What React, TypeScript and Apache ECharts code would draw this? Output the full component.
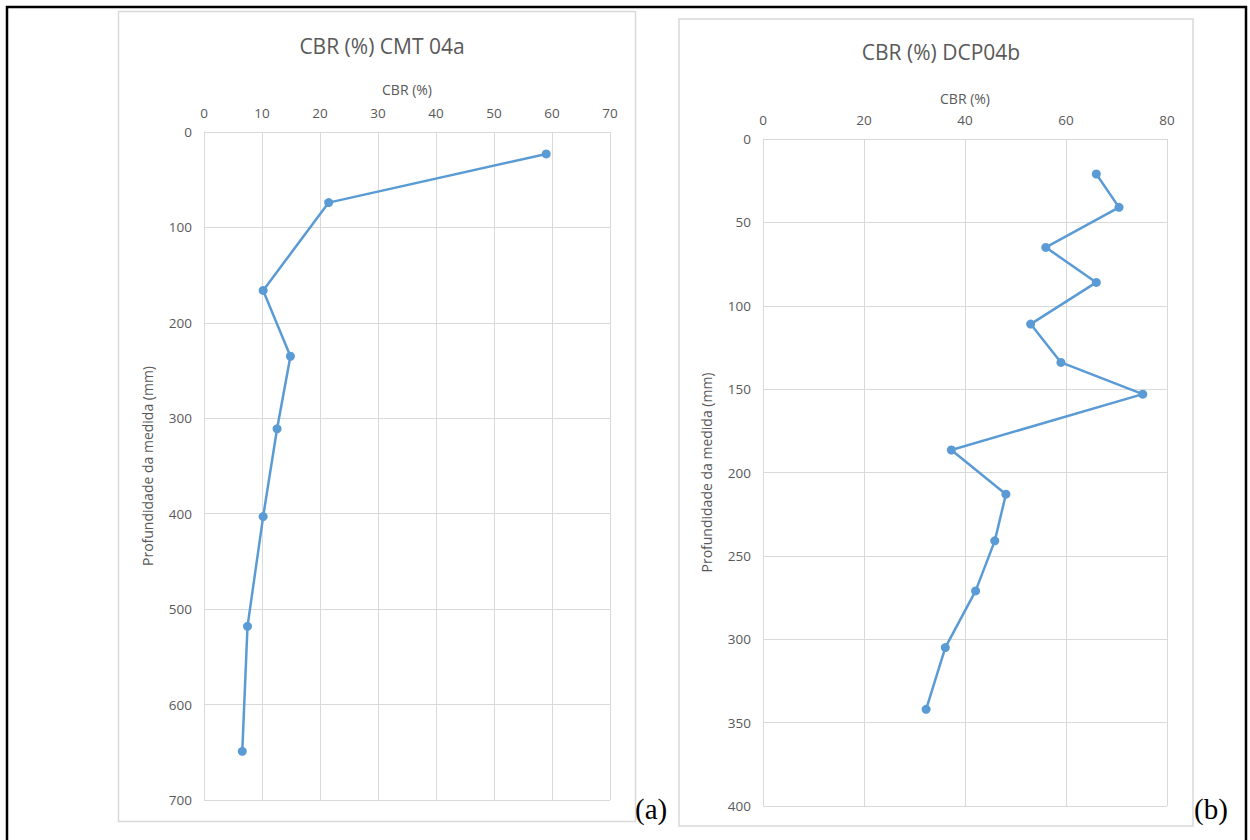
import React, { useEffect, useRef } from "react";
import * as echarts from "echarts";

const titleA = "CBR (%) CMT 04a";
const titleB = "CBR (%) DCP04b";
const xName = "CBR (%)";
const yName = "Profundidade da medida (mm)";

const cbrA = [59, 21.5, 10.2, 14.9, 12.6, 10.2, 7.5, 6.6];
const depthA = [23, 74, 166, 235, 311, 403, 518, 649];

const cbrB = [66, 70.5, 56, 66, 53, 59, 75.2, 37.3, 48.1, 45.9, 42.1, 36.1, 32.3];
const depthB = [21, 41, 65, 86, 111, 134, 153, 186.5, 213, 241, 271, 305, 342];

const pairs = (xs: number[], ys: number[]) => xs.map((x, i) => [x, ys[i]]);

const FONT = "Open Sans";
const GREY = "#595959";
const GRID = "#d9d9d9";
const BLUE = "#5b9bd5";

export default function App() {
  const ref = useRef<HTMLDivElement>(null);
  useEffect(() => {
    if (!ref.current) return;
    const chart = echarts.init(ref.current, null, { renderer: "svg" });
    const xAxisBase = (gridIndex: number, max: number, interval: number, gap: number) => ({
      type: "value",
      gridIndex,
      position: "top",
      min: 0,
      max,
      interval,
      name: xName,
      nameLocation: "middle",
      nameGap: gap,
      nameTextStyle: { color: GREY, fontFamily: FONT, fontSize: 14 },
      axisLine: { show: false },
      axisTick: { show: false },
      axisLabel: { color: GREY, fontFamily: FONT, fontSize: 13.5, margin: 12 },
      splitLine: { show: true, lineStyle: { color: GRID, width: 1 } },
    });
    const yAxisBase = (gridIndex: number, max: number, interval: number) => ({
      type: "value",
      gridIndex,
      inverse: true,
      min: 0,
      max,
      interval,
      name: yName,
      nameLocation: "middle",
      nameGap: 50,
      nameTextStyle: { color: GREY, fontFamily: FONT, fontSize: 14 },
      axisLine: { show: true, lineStyle: { color: GRID } },
      axisTick: { show: false },
      axisLabel: { color: GREY, fontFamily: FONT, fontSize: 13.5, margin: 12 },
      splitLine: { show: true, lineStyle: { color: GRID, width: 1 } },
    });
    const seriesBase = {
      type: "line",
      symbol: "circle",
      symbolSize: 9,
      lineStyle: { color: BLUE, width: 2.5 },
      itemStyle: { color: BLUE },
    };
    chart.setOption({
      animation: false,
      backgroundColor: "#ffffff",
      title: [
        {
          text: titleA,
          left: 377,
          top: 30,
          textAlign: "center",
          textStyle: { color: GREY, fontFamily: FONT, fontSize: 21, fontWeight: "normal" },
        },
        {
          text: titleB,
          left: 936,
          top: 36,
          textAlign: "center",
          textStyle: { color: GREY, fontFamily: FONT, fontSize: 21, fontWeight: "normal" },
        },
      ],
      grid: [
        { left: 204, top: 132, width: 406, height: 668 },
        { left: 763, top: 139, width: 404, height: 667 },
      ],
      xAxis: [xAxisBase(0, 70, 10, 36), xAxisBase(1, 80, 20, 34)],
      yAxis: [yAxisBase(0, 700, 100), yAxisBase(1, 400, 50)],
      series: [
        { ...seriesBase, xAxisIndex: 0, yAxisIndex: 0, data: pairs(cbrA, depthA) },
        { ...seriesBase, xAxisIndex: 1, yAxisIndex: 1, data: pairs(cbrB, depthB) },
      ],
      graphic: [
        {
          type: "rect",
          silent: true,
          z: -1,
          shape: { x: 118.5, y: 11.5, width: 517, height: 810 },
          style: { fill: "none", stroke: GRID, lineWidth: 1.5 },
        },
        {
          type: "rect",
          silent: true,
          z: -1,
          shape: { x: 679, y: 19, width: 514, height: 807 },
          style: { fill: "none", stroke: GRID, lineWidth: 1.5 },
        },
        {
          type: "rect",
          silent: true,
          shape: { x: 7, y: 7, width: 1239, height: 850 },
          style: { fill: "none", stroke: "#000000", lineWidth: 2.5 },
        },
        {
          type: "text",
          x: 635,
          y: 809,
          style: {
            text: "(a)",
            fill: "#000000",
            font: "29px 'Liberation Serif', 'Times New Roman', serif",
            textVerticalAlign: "middle",
            verticalAlign: "middle",
          },
        },
        {
          type: "text",
          x: 1194,
          y: 809,
          style: {
            text: "(b)",
            fill: "#000000",
            font: "29px 'Liberation Serif', 'Times New Roman', serif",
            textVerticalAlign: "middle",
            verticalAlign: "middle",
          },
        },
      ],
    });
    return () => chart.dispose();
  }, []);
  return (
    <div
      ref={ref}
      style={{ position: "fixed", left: 0, top: 0, width: 1250, height: 840, background: "#fff" }}
    />
  );
}
